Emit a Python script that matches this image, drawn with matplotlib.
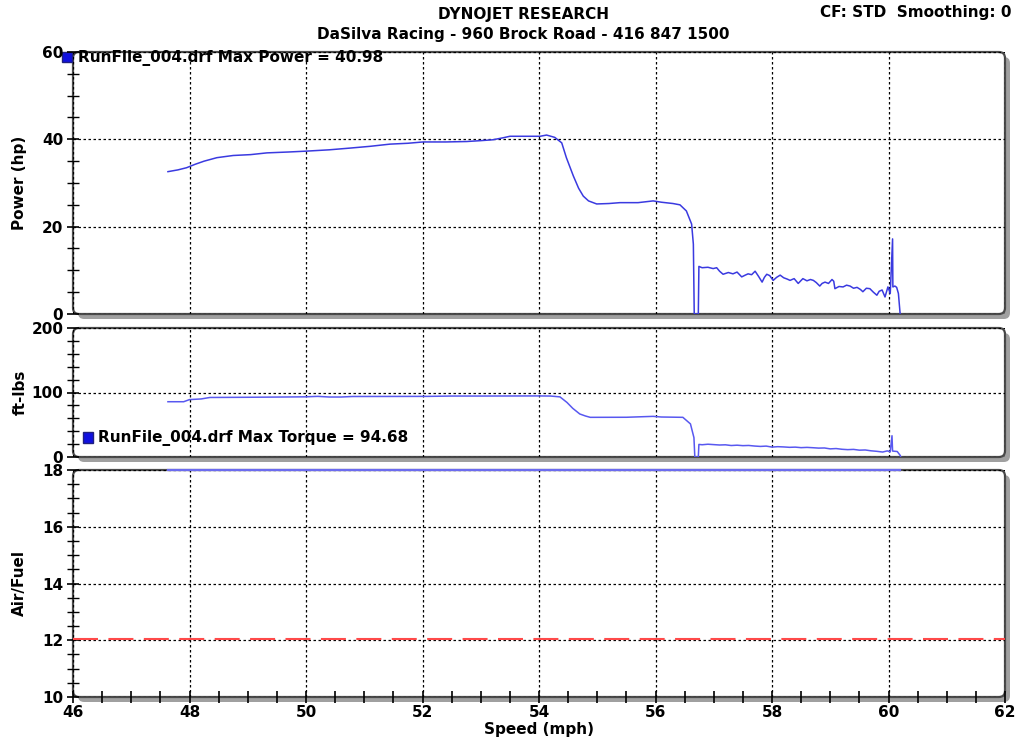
import matplotlib
matplotlib.use("Agg")
import matplotlib.pyplot as plt
from matplotlib.patches import FancyBboxPatch, Rectangle
from matplotlib.ticker import MultipleLocator

# power run (mph, hp)
power_speed = [47.63, 47.8, 47.95, 48.1, 48.25, 48.47, 48.75, 49.05, 49.33, 49.7, 50.01, 50.4,
               50.76, 51.1, 51.44, 51.75, 52.01, 52.4, 52.76, 53.0, 53.21, 53.4, 53.5, 53.8,
               54.02, 54.13, 54.27, 54.39, 54.47, 54.59, 54.68, 54.76, 54.85, 54.99, 55.2, 55.39,
               55.7, 55.96, 56.1, 56.3, 56.42, 56.53, 56.62, 56.65, 56.665, 56.735, 56.745, 56.8,
               56.9, 56.99, 57.05, 57.1, 57.16, 57.25, 57.33, 57.4, 57.48, 57.54, 57.59, 57.65,
               57.71, 57.77, 57.83, 57.87, 57.91, 57.96, 58.02, 58.08, 58.14, 58.2, 58.26, 58.31,
               58.38, 58.45, 58.53, 58.6, 58.66, 58.71, 58.76, 58.82, 58.86, 58.91, 58.97, 59.03,
               59.06, 59.08, 59.15, 59.22, 59.28, 59.34, 59.4, 59.46, 59.52, 59.56, 59.62, 59.68,
               59.74, 59.8, 59.84, 59.89, 59.94, 59.99, 60.03, 60.07, 60.075, 60.11, 60.14, 60.17,
               60.2]
power_hp = [32.6, 33.0, 33.5, 34.3, 35.0, 35.8, 36.3, 36.5, 36.9, 37.1, 37.3, 37.6,
            38.0, 38.4, 38.9, 39.1, 39.4, 39.4, 39.5, 39.7, 39.9, 40.4, 40.7, 40.7,
            40.7, 40.98, 40.45, 39.2, 35.8, 31.6, 28.8, 27.0, 25.9, 25.2, 25.3, 25.5,
            25.5, 25.9, 25.6, 25.3, 25.0, 23.6, 20.6, 16.0, 0.0, 0.0, 10.9, 10.6,
            10.7, 10.4, 10.6, 9.8, 9.1, 9.5, 9.2, 9.6, 8.5, 8.9, 9.2, 9.0,
            9.8, 8.6, 7.3, 8.4, 9.1, 8.8, 7.7, 8.4, 8.9, 8.3, 8.0, 7.7,
            8.1, 7.0, 8.1, 7.6, 7.9, 7.7, 7.2, 6.4, 7.0, 7.3, 7.0, 7.9,
            7.5, 5.8, 6.3, 6.2, 6.6, 6.4, 5.9, 6.1, 5.6, 5.1, 5.9, 5.8,
            5.0, 4.3, 5.2, 5.5, 3.9, 6.2, 4.7, 17.2, 6.2, 6.4, 6.1, 4.7,
            0.0]

# torque run (mph, ft-lbs)
torque_speed = [47.63, 47.9, 48.0, 48.2, 48.35, 49.0, 49.6, 50.0, 50.2, 50.4, 50.6, 50.8,
                51.5, 52.1, 52.5, 53.0, 53.5, 54.0, 54.2, 54.36, 54.48, 54.58, 54.7, 54.8,
                54.88, 55.5, 55.96, 56.1, 56.47, 56.6, 56.66, 56.675, 56.735, 56.745, 56.8, 56.9,
                57.0, 57.1, 57.2, 57.3, 57.4, 57.5, 57.6, 57.7, 57.8, 57.9, 58.0, 58.1,
                58.2, 58.3, 58.4, 58.5, 58.6, 58.7, 58.8, 58.9, 59.0, 59.1, 59.2, 59.3,
                59.4, 59.5, 59.6, 59.7, 59.8, 59.9, 59.98, 60.03, 60.06, 60.07, 60.15, 60.2,
                60.21]
torque_ftlb = [85.7, 85.7, 89.0, 90.0, 92.3, 92.6, 93.0, 93.3, 94.0, 93.0, 93.0, 93.8,
               93.9, 94.0, 94.5, 94.5, 94.6, 94.68, 94.5, 93.2, 84.6, 75.4, 66.7, 63.5,
               61.5, 61.6, 63.0, 62.0, 61.5, 51.3, 30.0, 0.0, 0.0, 19.5, 19.0, 19.8,
               19.2, 18.6, 18.9, 17.8, 18.3, 17.6, 17.9, 17.0, 16.4, 16.9, 15.4, 16.0,
               15.6, 15.0, 15.3, 14.5, 14.9, 14.4, 13.8, 14.0, 12.6, 13.1, 12.0, 11.4,
               11.8, 10.6, 10.9, 9.6, 8.8, 7.7, 9.5, 8.0, 33.0, 9.2, 8.5, 2.6,
               0.0]

# air/fuel reading (pegged at top) and reference line
afr_speed = [47.63, 60.2]
afr_value = [18.0, 18.0]
ref_speed = [46.0, 62.0]
ref_afr = [12.03, 12.03]

W, H = 1026, 742
fig = plt.figure(figsize=(W / 100, H / 100), dpi=100)
fig.patch.set_facecolor("white")

plt.rcParams["font.family"] = ["DejaVu Sans"]
BOLD = dict(fontweight="bold", fontsize=11)
LINE = "#3a3ae0"
LINE2 = "#5858f0"


def px_box(left, top, right, bottom):
    return [left / W, 1 - bottom / H, (right - left) / W, (bottom - top) / H]


def panel(rect):
    ax = fig.add_axes(rect)
    ax.set_facecolor("none")
    for s in ax.spines.values():
        s.set_visible(False)
    x0, y0, w, h = rect
    # drop shadow and rounded frame
    shadow = FancyBboxPatch((x0 + 5 / W, y0 - 5 / H), w, h, transform=fig.transFigure,
                            boxstyle="round,pad=0,rounding_size=0.006", mutation_aspect=W / H,
                            facecolor="#a0a0a0", edgecolor="none", zorder=-3)
    frame = FancyBboxPatch((x0, y0), w, h, transform=fig.transFigure,
                           boxstyle="round,pad=0,rounding_size=0.006", mutation_aspect=W / H,
                           facecolor="white", edgecolor="#4a4a4a", linewidth=1.6, zorder=-2)
    fig.patches.extend([shadow, frame])
    ax.grid(True, color="black", linestyle=(0, (2, 2)), linewidth=0.9)
    ax.set_xlim(46, 62)
    ax.xaxis.set_major_locator(MultipleLocator(2))
    ax.tick_params(axis="y", which="both", direction="inout", left=True, pad=3,
                   colors="black", labelsize=11)
    ax.tick_params(axis="y", which="major", length=8, width=1.2)
    ax.tick_params(axis="y", which="minor", length=8, width=1.0)
    for lbl in ax.get_yticklabels():
        lbl.set_fontweight("bold")
    return ax


# power panel
ax1 = panel(px_box(73, 52, 1005, 314))
ax1.plot(power_speed, power_hp, color=LINE, linewidth=1.1)
ax1.set_ylim(0, 60)
ax1.yaxis.set_major_locator(MultipleLocator(20))
ax1.yaxis.set_minor_locator(MultipleLocator(5))
ax1.tick_params(axis="x", bottom=False, labelbottom=False)
ax1.set_ylabel("Power (hp)", **BOLD)
ax1.yaxis.set_label_coords(-0.049, 0.5)
ax1.add_patch(Rectangle((-0.012, 0.96), 0.011, 0.04, transform=ax1.transAxes, clip_on=False,
                        facecolor="#1010e0", edgecolor="#202080", linewidth=1))
ax1.text(0.005, 0.976, "RunFile_004.drf Max Power = 40.98", transform=ax1.transAxes,
         va="center", ha="left", **BOLD)

# torque panel
ax2 = panel(px_box(73, 328, 1005, 457))
ax2.plot(torque_speed, torque_ftlb, color=LINE2, linewidth=1.1)
ax2.set_ylim(0, 200)
ax2.yaxis.set_major_locator(MultipleLocator(100))
ax2.yaxis.set_minor_locator(MultipleLocator(20))
ax2.tick_params(axis="x", bottom=False, labelbottom=False)
ax2.set_ylabel("ft-lbs", **BOLD)
ax2.yaxis.set_label_coords(-0.049, 0.5)
ax2.add_patch(Rectangle((0.0105, 0.105), 0.011, 0.085, transform=ax2.transAxes, clip_on=False,
                        facecolor="#1010e0", edgecolor="#202080", linewidth=1))
ax2.text(0.027, 0.15, "RunFile_004.drf Max Torque = 94.68", transform=ax2.transAxes,
         va="center", ha="left", **BOLD)

# air/fuel panel
ax3 = panel(px_box(73, 470, 1005, 697))
ax3.plot(ref_speed, ref_afr, color="#ff4a4a", linewidth=1.5, linestyle=(0, (12, 5)), zorder=3)
ax3.plot(afr_speed, afr_value, color="#6c6cf0", linewidth=1.6, clip_on=False)
ax3.set_ylim(10, 18)
ax3.yaxis.set_major_locator(MultipleLocator(2))
ax3.yaxis.set_minor_locator(MultipleLocator(0.5))
ax3.xaxis.set_minor_locator(MultipleLocator(0.5))
ax3.tick_params(axis="x", which="both", direction="inout", length=8, width=1.2, pad=2,
                labelsize=11)
for lbl in ax3.get_xticklabels():
    lbl.set_fontweight("bold")
ax3.set_ylabel("Air/Fuel", **BOLD)
ax3.yaxis.set_label_coords(-0.049, 0.5)
ax3.set_xlabel("Speed (mph)", labelpad=1, **BOLD)

# header
fig.text(523 / W, 1 - 14 / H, "DYNOJET RESEARCH", ha="center", va="center", **BOLD)
fig.text(523 / W, 1 - 34 / H, "DaSilva Racing - 960 Brock Road - 416 847 1500",
         ha="center", va="center", **BOLD)
fig.text(1012 / W, 1 - 12 / H, "CF: STD  Smoothing: 0", ha="right", va="center", **BOLD)

fig.savefig("out.png", dpi=100)
